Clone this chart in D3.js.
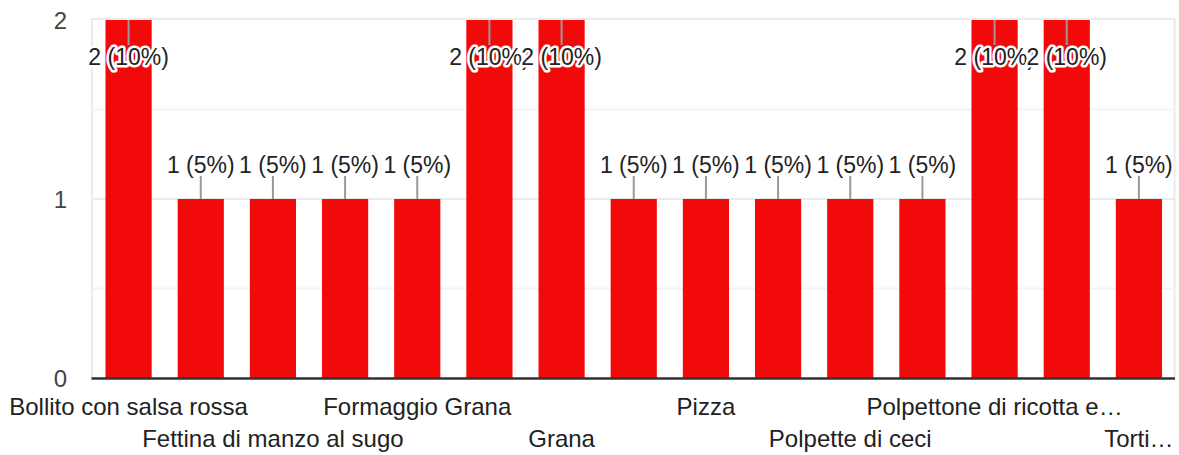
<!DOCTYPE html>
<html lang="it">
<head>
    <meta charset="UTF-8">
    <title>Risposte</title>
    <script src="https://d3js.org/d3.v7.min.js"></script>
    <style>
        body { margin: 0; background: #fff; }
        text { font-family: Arial, 'Liberation Sans', sans-serif; }
        .tick-y { font-size: 24px; fill: #444; }
        .cat { font-size: 24px; fill: #222; }
        .ann { font-size: 23px; fill: #222; }
        .ann.halo { stroke: #fff; stroke-width: 5px; stroke-linejoin: round; }
    </style>
</head>
<body>
<script>
    const width  = 1179;
    const height = 455;

    // categories (odd ones are not labelled in the picture, left empty)
    const categories = [
        "Bollito con salsa rossa", "",
        "Fettina di manzo al sugo", "",
        "Formaggio Grana", "",
        "Grana", "",
        "Pizza", "",
        "Polpette di ceci", "",
        "Polpettone di ricotta e…", "",
        "Torti…"
    ];
    const counts   = [2, 1, 1, 1, 1, 2, 2, 1, 1, 1, 1, 1, 2, 2, 1];
    const percents = [10, 5, 5, 5, 5, 10, 10, 5, 5, 5, 5, 5, 10, 10, 5];
    const yTicks   = [0, 1, 2];
    const yMinor   = [0.5, 1.5];

    const pLeft = 92.5, pRight = 1175, pTop = 20, pBottom = 378;

    const svg = d3.select("body").append("svg")
        .attr("width", width).attr("height", height);

    const x = d3.scaleBand()
        .domain(d3.range(counts.length))
        .range([pLeft, pRight])
        .paddingInner(0.36)
        .paddingOuter(0.18);

    const y = d3.scaleLinear().domain([0, 2]).range([pBottom, pTop]);

    // plot frame
    svg.append("rect")
        .attr("x", pLeft - 0.5).attr("y", pTop - 1)
        .attr("width", pRight - pLeft).attr("height", pBottom - pTop + 1)
        .attr("fill", "none").attr("stroke", "#ebebeb").attr("stroke-width", 2);

    svg.selectAll(".minor").data(yMinor).enter().append("line")
        .attr("x1", pLeft).attr("x2", pRight - 1)
        .attr("y1", d => y(d)).attr("y2", d => y(d))
        .attr("stroke", "#f4f4f4").attr("stroke-width", 2);

    svg.selectAll(".major").data(yTicks.filter(d => d > 0 && d < 2)).enter().append("line")
        .attr("x1", pLeft).attr("x2", pRight - 1)
        .attr("y1", d => y(d)).attr("y2", d => y(d))
        .attr("stroke", "#ebebeb").attr("stroke-width", 2);

    svg.selectAll(".tick-y").data(yTicks).enter().append("text")
        .attr("class", "tick-y")
        .attr("x", 67).attr("y", d => y(d))
        .attr("dy", "0.36em")
        .attr("text-anchor", "end")
        .text(d => d);

    // bars
    svg.selectAll(".bar").data(counts).enter().append("rect")
        .attr("x", (d, i) => x(i))
        .attr("width", x.bandwidth())
        .attr("y", d => y(d))
        .attr("height", d => y(0) - y(d))
        .attr("fill", "#f20a0a");

    // baseline
    svg.append("line")
        .attr("x1", pLeft - 1).attr("x2", pRight)
        .attr("y1", y(0) + 0.5).attr("y2", y(0) + 0.5)
        .attr("stroke", "#333").attr("stroke-width", 2.5);

    // annotations: above the bar, flipped inside when there's no room
    const inside = d => y(d) - 45 < pTop;
    const cx = i => x(i) + x.bandwidth() / 2;

    svg.selectAll(".stem").data(counts).enter().append("line")
        .attr("x1", (d, i) => cx(i)).attr("x2", (d, i) => cx(i))
        .attr("y1", d => y(d))
        .attr("y2", d => inside(d) ? y(d) + 25 : y(d) - 23)
        .attr("stroke", "#999").attr("stroke-width", 2);

    const label = (d, i) => d + " (" + percents[i] + "%)";

    // halo + text drawn per label so a later halo covers the earlier text
    const ann = svg.selectAll(".ann-g").data(counts).enter().append("g")
        .attr("transform", (d, i) => `translate(${cx(i)},${inside(d) ? y(d) + 45 : y(d) - 26})`);

    ann.append("text")
        .attr("class", "ann halo")
        .attr("text-anchor", "middle")
        .text(label);

    ann.append("text")
        .attr("class", "ann")
        .attr("text-anchor", "middle")
        .text(label);

    // category labels, every other one, staggered on two rows
    svg.selectAll(".cat").data(categories).enter()
        .filter(d => d !== "")
        .append("text")
        .attr("class", "cat")
        .attr("x", d => cx(categories.indexOf(d)))
        .attr("y", d => (categories.indexOf(d) / 2) % 2 === 0 ? 415 : 447)
        .attr("text-anchor", "middle")
        .text(d => d);
</script>
</body>
</html>
